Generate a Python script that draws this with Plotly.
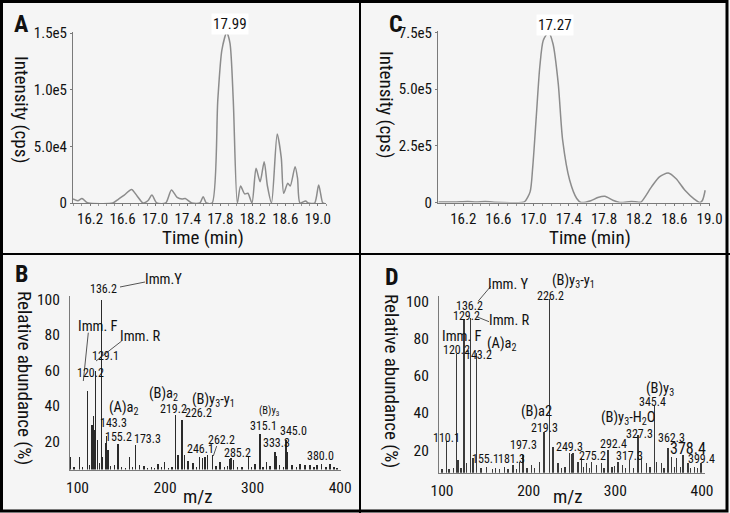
import plotly.graph_objects as go

# ---------------- data ----------------
# Panel A chromatogram (time min, intensity cps)
a_time = [15.99, 16.05, 16.10, 16.15, 16.18, 16.48, 16.55, 16.62, 16.71, 16.78, 16.85, 16.91, 16.96,
          17.02, 17.13, 17.20, 17.27, 17.33, 17.37, 17.45, 17.55, 17.59, 17.63, 17.70, 17.77, 17.82,
          17.88, 17.92, 17.96, 18.01, 18.05, 18.10, 18.14, 18.19, 18.24, 18.29, 18.34, 18.38, 18.43,
          18.50, 18.55, 18.58, 18.63, 18.66, 18.72, 18.75, 18.78, 18.85, 18.88, 18.96, 19.01, 19.06, 19.08]
a_int = [3500, 2000, 4000, 1000, 0, 0, 3500, 7000, 12000, 6000, 0, 2000, 7000,
         0, 0, 11500, 5000, 3500, 4000, 0, 0, 5600, 0, 0, 91000, 135000,
         150500, 141000, 91000, 0, 15000, 8000, 8600, 0, 30600, 18800, 36400, 15000, 0,
         60900, 40000, 8600, 17400, 15000, 32000, 22000, 0, 1800, 0, 0, 15900, 0, 0]

# Panel C chromatogram
c_time = [15.92, 16.10, 16.25, 16.35, 16.45, 16.55, 16.86, 16.90, 16.96, 16.99, 17.03, 17.07, 17.11,
          17.17, 17.22, 17.28, 17.33, 17.41, 17.49, 17.54, 17.65, 17.73, 17.81, 17.90, 17.98, 18.11,
          18.18, 18.22, 18.34, 18.43, 18.53, 18.62, 18.72, 18.83, 18.89, 18.92, 18.95]
c_int = [2000, 2000, 4000, 2000, 4500, 1500, 0, 4400, 46800, 157000, 378000, 598000, 716000,
         750000, 701000, 525000, 275000, 98000, 17600, 0, 8000, 22000, 27500, 10000, 0, 4000,
         2000, 2000, 69000, 113000, 130000, 105000, 54000, 14000, 0, 10000, 54000]

time_ticks = [16.2, 16.6, 17.0, 17.4, 17.8, 18.2, 18.6, 19.0]
a_yticks = [0, 50000, 100000, 150000]
a_yticktext = ["0", "5.0e4", "1.0e5", "1.5e5"]
c_yticks = [0, 250000, 500000, 750000]
c_yticktext = ["0", "2.5e5", "5.0e5", "7.5e5"]

# Panel B MS/MS spectrum (m/z, relative abundance %)
b_mz = [92.2, 96.0, 102.5, 106.0, 111.2, 113.9, 116.5, 118.0, 119.6, 120.8, 122.8, 125.0, 127.6, 128.8,
        131.7, 133.1, 134.8, 138.0, 142.5, 146.3, 150.0, 155.0, 159.6, 163.0, 166.5, 171.1, 176.0,
        180.0, 184.3, 188.0, 192.0, 196.0, 199.6, 204.0, 208.0, 211.7, 214.8, 219.4, 222.5, 226.3,
        232.0, 236.0, 239.6, 242.8, 245.7, 248.5, 254.0, 258.0, 262.8, 268.0, 271.0, 274.3, 275.4,
        278.0, 283.0, 288.0, 295.2, 299.0, 302.8, 308.6, 312.0, 316.2, 320.0, 325.7, 327.0, 331.0,
        335.0, 338.3, 340.2, 344.8, 350.0, 354.3, 360.0, 365.7, 370.0, 373.4, 379.0, 384.0, 388.5,
        393.0, 396.2]
b_rel = [11.2, 5.5, 11.2, 5.8, 48.3, 6.5, 29.1, 34.2, 26.3, 59.6, 20.7, 8.0, 100.0, 11.2,
         19.0, 22.9, 15.0, 6.0, 6.5, 18.8, 5.6, 5.2, 11.2, 5.5, 17.8, 6.5, 6.1,
         5.3, 5.6, 5.2, 7.5, 5.4, 8.4, 5.3, 5.8, 35.2, 12.2, 32.0, 12.2, 8.8,
         7.7, 5.5, 11.0, 10.5, 11.0, 12.2, 12.2, 6.0, 8.4, 5.5, 6.2, 10.3, 10.5,
         9.4, 5.6, 5.4, 11.2, 5.6, 7.5, 24.4, 5.8, 8.4, 6.0, 14.0, 12.0, 6.5,
         5.5, 20.7, 14.0, 6.8, 5.6, 7.5, 6.8, 6.8, 5.8, 6.8, 7.5, 5.5, 7.5,
         5.4, 5.3]

# Panel D MS/MS spectrum
d_mz = [100.0, 104.9, 108.0, 113.0, 116.6, 118.4, 122.0, 125.3, 128.0, 133.1, 135.7, 139.5, 145.0,
        151.1, 158.0, 162.0, 166.5, 172.3, 176.0, 181.9, 186.0, 189.6, 193.4, 198.0, 203.0, 207.0,
        212.7, 217.6, 224.2, 228.0, 233.8, 238.0, 242.0, 247.3, 249.5, 251.1, 256.9, 260.7, 263.0,
        266.5, 270.0, 272.2, 278.0, 283.8, 287.0, 291.5, 296.0, 299.0, 303.0, 308.0, 312.0, 316.5,
        321.0, 326.1, 330.0, 335.7, 340.0, 345.4, 347.2, 353.0, 356.0, 360.7, 364.5, 368.0, 370.3,
        375.0, 378.0, 383.8, 387.0, 391.5, 395.0, 399.1]
d_rel = [9.8, 25.0, 10.2, 10.5, 71.4, 14.8, 10.6, 90.2, 13.0, 91.0, 16.0, 72.3, 10.4,
         11.2, 9.8, 10.3, 9.9, 11.2, 10.0, 12.1, 10.2, 13.9, 17.5, 10.4, 12.1, 10.6,
         13.9, 30.0, 100.9, 21.9, 13.0, 10.5, 10.8, 18.4, 18.0, 18.4, 13.9, 15.7, 11.0,
         13.0, 10.5, 13.9, 12.1, 13.0, 10.6, 20.2, 10.8, 11.5, 13.9, 12.1, 10.5, 14.8,
         10.6, 28.2, 16.0, 13.0, 10.8, 43.7, 13.9, 13.0, 10.6, 21.1, 16.6, 10.8, 15.7,
         11.0, 17.5, 13.0, 10.6, 11.2, 10.4, 13.0]

mz_ticks = [100, 200, 300, 400]
rel_ticks = [20, 40, 60, 80, 100]

# peak labels (text) for the spectra
b_labels = ["Imm.Y", "136.2", "Imm. F", "Imm. R", "129.1", "120.2", "(A)a<sub>2</sub>", "143.3", "155.2",
            "173.3", "(B)a<sub>2</sub>", "219.2", "(B)y<sub>3</sub>-y<sub>1</sub>", "226.2", "246.1",
            "262.2", "285.2", "(B)y<sub>3</sub>", "315.1", "333.3", "345.0", "380.0"]
d_labels = ["Imm. Y", "(B)y<sub>3</sub>-y<sub>1</sub>", "226.2", "136.2", "129.2", "Imm. R", "Imm. F",
            "(A)a<sub>2</sub>", "120.2", "143.2", "(B)y<sub>3</sub>", "345.4", "(B)a2", "219.3",
            "(B)y<sub>3</sub>-H<sub>2</sub>O", "327.3", "362.3", "110.1", "292.4", "378.4", "197.3",
            "249.3", "155.1", "181.3", "275.2", "317.3", "399.4"]

# ---------------- figure ----------------
W, H = 730, 513
FONT = "Noto Sans Condensed, Liberation Sans Narrow, Roboto Condensed, Roboto, sans-serif"
INK = "#111111"
BG = "#f5f5f5"


def fx(p):
    return p / W


def fy(p):
    return 1 - p / H


fig = go.Figure()
fig.add_trace(go.Scatter(x=a_time, y=a_int, mode="lines", line=dict(color="#8c8c8c", width=1.5,
                         shape="spline", smoothing=0.7), xaxis="x", yaxis="y", showlegend=False,
                         hoverinfo="skip"))
fig.add_trace(go.Scatter(x=c_time, y=c_int, mode="lines", line=dict(color="#8c8c8c", width=1.5,
                         shape="spline", smoothing=0.7), xaxis="x2", yaxis="y2", showlegend=False,
                         hoverinfo="skip"))
fig.add_trace(go.Bar(x=b_mz, y=b_rel, width=1.6, marker=dict(color="#2a2a2a", line=dict(width=0)),
                     xaxis="x3", yaxis="y3", showlegend=False, hoverinfo="skip"))
fig.add_trace(go.Bar(x=d_mz, y=d_rel, width=1.6, marker=dict(color="#3a3a3a", line=dict(width=0)),
                     xaxis="x4", yaxis="y4", showlegend=False, hoverinfo="skip"))

tickfont_s = dict(family=FONT, size=15, color=INK)
tickfont_l = dict(family=FONT, size=15.5, color=INK)
axline = dict(showline=True, linecolor="#7a7a7a", linewidth=1, showgrid=False, zeroline=False,
              ticks="outside", ticklen=2, tickcolor="#7a7a7a", mirror=False, automargin=False)
minor_t = dict(ticks="outside", dtick=0.1, ticklen=2, tickcolor="#9a9a9a")

fig.update_layout(
    template="none",
    width=W, height=H, margin=dict(l=0, r=0, t=0, b=0, autoexpand=False),
    paper_bgcolor=BG, plot_bgcolor=BG, bargap=0, hovermode=False, dragmode=False,
    font=dict(family=FONT, color=INK),
    xaxis=dict(domain=[fx(73), fx(326)], range=[15.99, 19.1], tickvals=time_ticks,
               ticktext=[f"{t:.1f}" for t in time_ticks], tickfont=tickfont_s, anchor="y",
               minor=minor_t, **axline),
    yaxis=dict(domain=[fy(203), fy(32)], range=[0, 151000], tickvals=a_yticks, ticktext=a_yticktext,
               tickfont=tickfont_s, anchor="x", **axline),
    xaxis2=dict(domain=[fx(438), fx(710)], range=[15.913, 19.005], tickvals=time_ticks,
                ticktext=[f"{t:.1f}" for t in time_ticks], tickfont=tickfont_s, anchor="y2",
                minor=minor_t, **axline),
    yaxis2=dict(domain=[fy(202.5), fy(31)], range=[0, 757000], tickvals=c_yticks, ticktext=c_yticktext,
                tickfont=tickfont_s, anchor="x2", **axline),
    xaxis3=dict(domain=[fx(70), fx(341)], range=[91.4, 401], tickvals=mz_ticks, tickfont=tickfont_l,
                anchor="y3", **axline),
    yaxis3=dict(domain=[fy(469.5), fy(296)], range=[4.2, 102], tickvals=rel_ticks, tickfont=tickfont_l,
                anchor="x3", **axline),
    xaxis4=dict(domain=[fx(439), fx(705)], range=[96.5, 403.5], tickvals=mz_ticks, tickfont=tickfont_l,
                anchor="y4", **axline),
    yaxis4=dict(domain=[fy(472.7), fy(295.5)], range=[8, 103], tickvals=rel_ticks, tickfont=tickfont_l,
                anchor="x4", **axline),
)
for ax in ["yaxis3", "yaxis4"]:
    fig.layout[ax].ticks = ""
    fig.layout[ax].ticklabelstandoff = 6
for ax in ["xaxis3", "xaxis4"]:
    fig.layout[ax].ticks = ""
    fig.layout[ax].ticklabelstandoff = 4

ann = []


def paper_text(text, x, y, size, bold=False, angle=0, bg=None):
    ann.append(dict(text=f"<b>{text}</b>" if bold else text, x=fx(x), y=fy(y), xref="paper", yref="paper",
                    showarrow=False, textangle=angle, font=dict(family=FONT, size=size, color=INK),
                    xanchor="center", yanchor="middle", bgcolor=bg, borderpad=1))


# panel letters
paper_text("A", 21, 24, 24, bold=True)
paper_text("C", 396, 24, 24, bold=True)
paper_text("B", 21, 274, 24, bold=True)
paper_text("D", 392, 277, 24, bold=True)

# axis titles
paper_text("Time (min)", 203, 237, 19)
paper_text("Time (min)", 590, 237, 19)
paper_text("Intensity (cps)", 22, 109, 19, angle=90)
paper_text("Intensity (cps)", 387, 104, 19, angle=90)
paper_text("m/z", 198, 496, 19)
paper_text("m/z", 568, 496, 19)
paper_text("Relative abundance (%)", 25, 378, 19, angle=90)
paper_text("Relative abundance (%)", 392, 381, 19, angle=90)

# chromatogram apex labels
paper_text("17.99", 230, 24, 15, bg="white")
paper_text("17.27", 555, 25, 15, bg="white")

NS, LS = 12, 14.5
b_pos = [(163, 279, LS), (103, 289, NS), (98, 326, LS), (140, 336, LS), (105, 356, NS), (90, 373, NS),
         (123, 408, LS), (113.3, 422.7, NS), (118.3, 436.7, NS), (147.3, 439.3, NS), (163.3, 394.3, LS),
         (173.3, 409.3, NS), (213.3, 400, LS), (198.3, 412.7, NS), (200, 448.7, NS), (221.7, 440.3, NS),
         (237.3, 452.7, NS), (269.3, 411, 10.5), (263.3, 426, NS), (276.7, 443.3, NS), (293.3, 431, NS),
         (320, 456, NS)]
d_pos = [(508.3, 284.3, LS), (573.3, 281, LS), (550, 296, NS), (469, 306, NS), (466.7, 316, NS),
         (509, 320, LS), (461.7, 336, LS), (501.7, 344.3, LS), (456.7, 350, NS), (478.3, 355, NS),
         (660, 389.3, LS), (652.3, 401.7, NS), (536.7, 411, LS), (544, 427.7, NS), (628.3, 417.7, LS),
         (639, 433.7, NS), (671.7, 437.7, NS), (446, 437.7, NS), (613.3, 444.3, NS), (687.7, 448.7, 16),
         (523.3, 445.3, NS), (569, 446.7, NS), (485.7, 459.3, NS), (511.7, 459.3, NS), (592.3, 456, NS),
         (629.3, 456, NS), (701.7, 459.3, NS)]
for t, (x, y, s) in zip(b_labels, b_pos):
    paper_text(t, x, y, s)
for t, (x, y, s) in zip(d_labels, d_pos):
    paper_text(t, x, y, s)

fig.update_layout(annotations=ann)

# leader lines and frame (paper coordinates)
shapes = []


def pline(x0, y0, x1, y1, color="#555555", width=1):
    shapes.append(dict(type="line", xref="paper", yref="paper", x0=fx(x0), y0=fy(y0), x1=fx(x1), y1=fy(y1),
                       line=dict(color=color, width=width)))


pline(120, 287, 145, 282)        # Imm.Y (B)
pline(88.3, 332.7, 83.3, 381)    # Imm.F (B)
pline(121.7, 341, 96, 361)       # Imm.R (B)
pline(216.7, 446, 213.3, 456)    # 262.2 (B)
pline(478.3, 301, 491, 286)      # Imm.Y (D)
pline(476.7, 316.7, 489, 321.7)  # Imm.R (D)

# frame
shapes.append(dict(type="rect", xref="paper", yref="paper", x0=fx(1.5), y0=fy(1.5), x1=fx(727), y1=fy(511),
                   line=dict(color="black", width=3)))
pline(360, 0, 360, 513, color="black", width=2)
pline(0, 254, 730, 254, color="black", width=2)
fig.update_layout(shapes=shapes)

fig.write_html("out.html", config={"displayModeBar": False, "staticPlot": True},
               post_script="document.body.style.margin='0';document.body.style.overflow='hidden';")
